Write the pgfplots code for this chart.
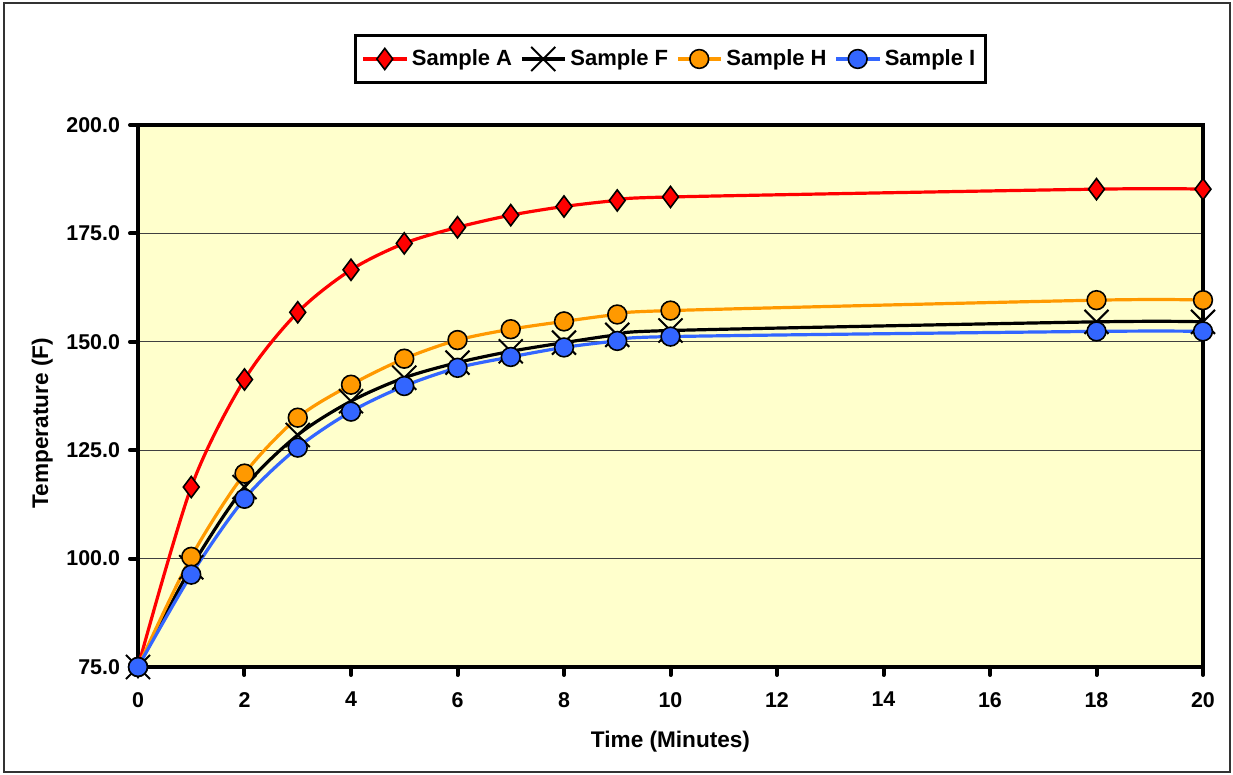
\documentclass[border=0pt]{standalone}
\usepackage{pgfplots}
\pgfplotsset{compat=1.18}
\usepackage{fontspec}
\setmainfont{Liberation Sans}
\definecolor{bgY}{HTML}{FFFFCC}
\definecolor{cOrange}{HTML}{FF9900}
\definecolor{cBlue}{HTML}{3366FF}
\begin{document}
\begin{tikzpicture}
\useasboundingbox (-69pt,-54pt) rectangle (547.5pt,333.5pt);
\draw[black!80, line width=1pt] (-67pt,-52.5pt) rectangle (546pt,332pt);
\begin{axis}[
  at={(0,0)}, anchor=south west,
  scale only axis, width=532.5pt, height=271pt,
  xmin=0, xmax=20, ymin=75, ymax=200,
  xtick={0,2,...,20}, ytick={75,100,...,200},
  clip=false,
  axis background/.style={fill=bgY},
  axis line style={line width=2pt, black},
  tick pos=left, tick align=outside,
  major tick length=4pt,
  major tick style={black, line width=2pt, line cap=round},
  ymajorgrids, major grid style={black!75, line width=0.6pt},
  /pgf/number format/assume math mode=true,
  scaled y ticks=false,
  ticklabel style={font=\bfseries\fontsize{10.7}{12}\selectfont},
  yticklabel style={/pgf/number format/fixed, /pgf/number format/fixed zerofill, /pgf/number format/precision=1, xshift=-1.5pt},
  xticklabel style={yshift=-5pt},
  xlabel={Time (Minutes)},
  xlabel style={at={(axis description cs:0.5,-0.1494)}, anchor=base, font=\bfseries\fontsize{11.3}{13}\selectfont},
  ylabel={Temperature (F)},
  ylabel style={at={(axis description cs:-0.0845,0.45)}, anchor=base, font=\bfseries\fontsize{11.3}{13}\selectfont},
  legend columns=4,
  legend style={at={(0.5,1.1218)}, anchor=center, draw=black, line width=1.5pt, fill=white,
    font=\bfseries\fontsize{11}{13}\selectfont, inner xsep=3pt, inner ysep=5pt,
    /tikz/every even column/.append style={column sep=2pt}},
  legend image code/.code={\draw[mark repeat=2,mark phase=2] plot coordinates {(0pt,0pt) (10.75pt,0pt) (21.5pt,0pt)};},
]
\addplot[color=red, line width=1.6pt, smooth, mark=diamond*, mark size=5.3pt,
  mark options={fill=red, draw=black, line width=0.8pt, solid}] coordinates {
  (0,75) (1,116.5) (2,141.3) (3,156.8) (4,166.6) (5,172.7) (6,176.4) (7,179.2)
  (8,181.2) (9,182.6) (10,183.4) (18,185.2) (20,185.2)};
\addlegendentry{Sample A}
\addplot[color=black, line width=1.6pt, smooth, mark=x, mark size=8.5pt,
  mark options={draw=black, line width=1pt, solid}] coordinates {
  (0,75) (1,98) (2,116.5) (3,128.5) (4,136.3) (5,141.7) (6,145.2) (7,147.8)
  (8,149.8) (9,151.6) (10,152.6) (18,154.6) (20,154.6)};
\addlegendentry{Sample F}
\addplot[color=cOrange, line width=1.6pt, smooth, mark=*, mark size=4.7pt,
  mark options={fill=cOrange, draw=black, line width=0.8pt, solid}] coordinates {
  (0,75) (1,100.4) (2,119.6) (3,132.5) (4,140.1) (5,146.1) (6,150.4) (7,152.9)
  (8,154.7) (9,156.3) (10,157.2) (18,159.6) (20,159.6)};
\addlegendentry{Sample H}
\addplot[color=cBlue, line width=1.6pt, smooth, mark=*, mark size=4.7pt,
  mark options={fill=cBlue, draw=black, line width=0.8pt, solid}] coordinates {
  (0,75) (1,96.3) (2,113.8) (3,125.6) (4,133.9) (5,139.8) (6,144.0) (7,146.5)
  (8,148.7) (9,150.2) (10,151.2) (18,152.4) (20,152.4)};
\addlegendentry{Sample I}
\end{axis}
\end{tikzpicture}
\end{document}
